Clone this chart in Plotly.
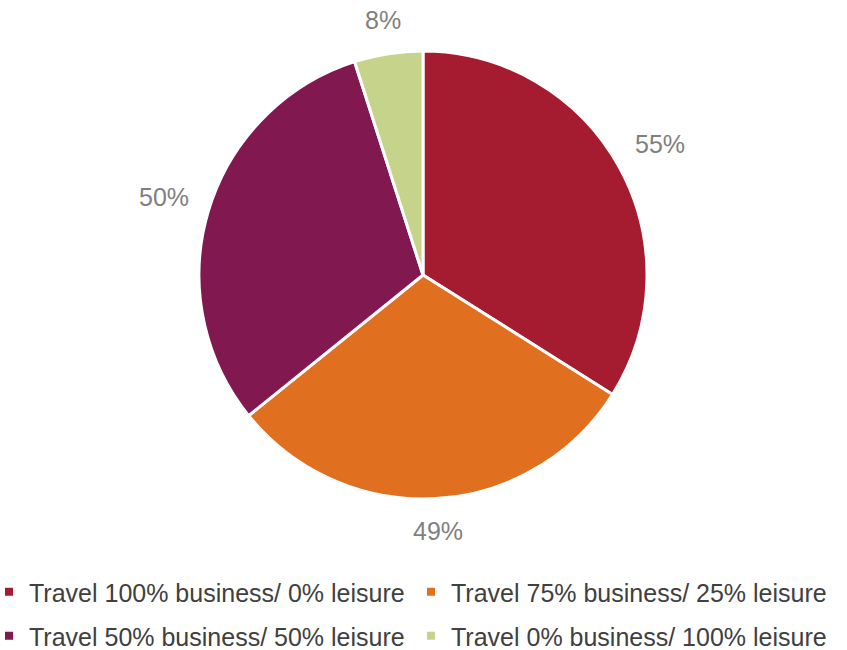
import math
import plotly.graph_objects as go

labels = ["Travel 100% business/ 0% leisure", "Travel 75% business/ 25% leisure",
          "Travel 50% business/ 50% leisure", "Travel 0% business/ 100% leisure"]
values = [55, 49, 50, 8]
colors = ["#A51C30", "#E07020", "#821850", "#C6D38B"]
legend_rows = ["legend", "legend", "legend2", "legend2"]

W, H = 847, 650
MB = 120                      # bottom margin holding the legend
PH = H - MB                   # plot-area height
cx, cy, r = 423, 275, 224     # target pie centre/radius in pixels
FONT = "Liberation Sans, Arial, sans-serif"
LABEL_SIZE = 25
LEG_SIZE = 25

fig = go.Figure(go.Pie(
    labels=labels, values=values, sort=False, direction="clockwise", rotation=0,
    marker=dict(colors=colors, line=dict(color="white", width=3)),
    textinfo="none", automargin=False, hoverinfo="label+value", showlegend=False,
    domain=dict(x=[(cx - r) / W, (cx + r) / W], y=[1 - (cy + r) / PH, 1 - (cy - r) / PH]),
))

# legend entries (two rows, two per row)
for lab, col, lg in zip(labels, colors, legend_rows):
    fig.add_trace(go.Scatter(x=[None], y=[None], mode="markers", name=lab,
                             marker=dict(symbol="square", size=8, color=col),
                             legend=lg, showlegend=True, hoverinfo="skip"))

# outside data labels placed just beyond each slice's mid-angle
total = sum(values)
cum = 0
for v in values:
    mid = (cum + v / 2) / total * 2 * math.pi
    cum += v
    dx, dy = math.sin(mid), -math.cos(mid)
    txt = f"{v}%"
    half_w = len(txt) * LABEL_SIZE * 0.33
    half_h = LABEL_SIZE * 0.5
    dist = r + 19 + abs(dx) * half_w + abs(dy) * half_h
    px, py = cx + dist * dx, cy + dist * dy
    fig.add_annotation(x=px / W, y=1 - py / PH, xref="paper", yref="paper",
                       text=txt, showarrow=False, xanchor="center", yanchor="middle",
                       font=dict(family=FONT, size=LABEL_SIZE, color="#7F7F7F"))

leg_common = dict(orientation="h", xanchor="left", yanchor="middle",
                  entrywidth=377, entrywidthmode="pixels", bgcolor="rgba(0,0,0,0)",
                  font=dict(family=FONT, size=LEG_SIZE, color="#404040"),
                  itemwidth=30, traceorder="normal")
fig.update_layout(
    width=W, height=H, margin=dict(l=0, r=0, t=0, b=MB, autoexpand=False),
    paper_bgcolor="white", plot_bgcolor="white",
    xaxis=dict(visible=False), yaxis=dict(visible=False),
    legend=dict(x=-11 / W, y=1 - 592 / PH, **leg_common),
    legend2=dict(x=-11 / W, y=1 - 636 / PH, **leg_common),
)

fig.write_html("out.html")
